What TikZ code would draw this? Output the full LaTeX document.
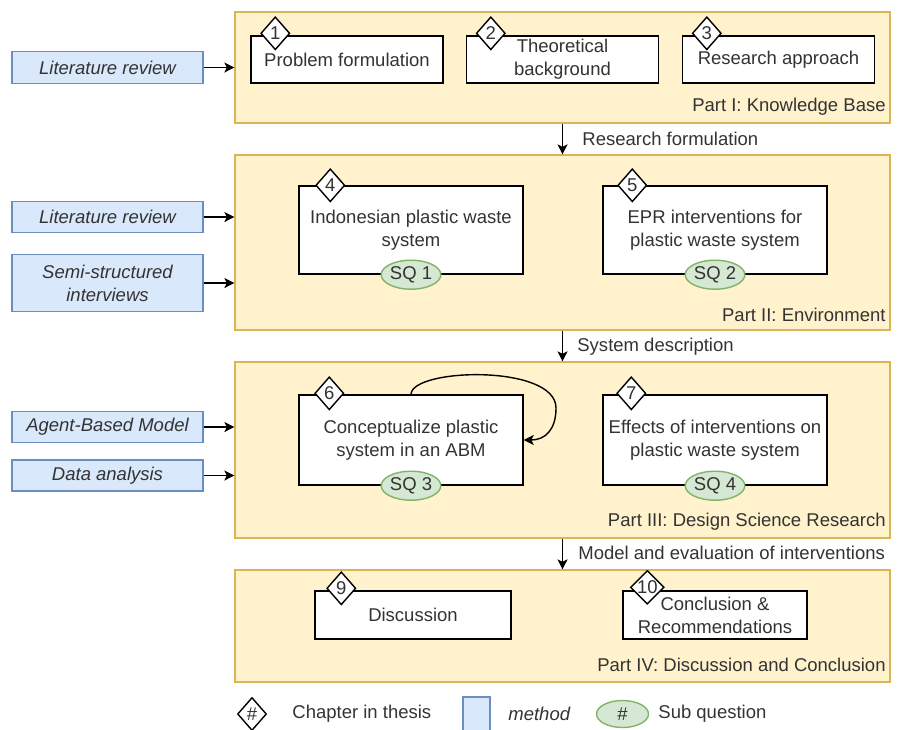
\documentclass[tikz,border=0pt]{standalone}
\usepackage{fontspec}
\setmainfont{Liberation Sans}
\usetikzlibrary{shapes.geometric,arrows.meta,calc}
\definecolor{partfill}{HTML}{FFF2CC}
\definecolor{partline}{HTML}{D6B656}
\definecolor{methfill}{HTML}{DAE8FC}
\definecolor{methline}{HTML}{6C8EBF}
\definecolor{sqfill}{HTML}{D5E8D4}
\definecolor{sqline}{HTML}{82B366}
\definecolor{ink}{HTML}{333333}
\tikzset{
  x=0.5pt, y=-0.5pt,
  every node/.style={font=\fontsize{9.25}{11.5}\selectfont, text=ink},
  part/.style={draw=partline, fill=partfill, line width=0.6pt, minimum width=327.5pt, inner sep=0},
  chap/.style={draw=black, fill=white, line width=0.7pt, align=center, inner sep=0},
  dia/.style={diamond, draw=black, fill=white, line width=0.7pt, inner sep=0,
    minimum width=14.5pt, minimum height=16.5pt},
  sq/.style={ellipse, draw=sqline, fill=sqfill, line width=0.7pt, inner sep=0, minimum width=24.5pt, minimum height=14.5pt},
  meth/.style={draw=methline, fill=methfill, line width=0.7pt, align=center, inner sep=0,
    minimum width=95.5pt, font=\fontsize{9.25}{11.5}\selectfont\itshape},
  flow/.style={-{Stealth[length=5pt,width=5pt,inset=1.2pt]}, line width=0.7pt, draw=black},
  partlabel/.style={anchor=east, inner sep=0},
  arrowlabel/.style={anchor=west, inner sep=0}
}
\begin{document}
\begin{tikzpicture}
\useasboundingbox (0,0) rectangle (898,729);

% the four parts
\node[part, minimum height=55.5pt] (p1) at (562.5,67.5) {};
\node[part, minimum height=87.5pt] (p2) at (562.5,242.5) {};
\node[part, minimum height=88pt]   (p3) at (562.5,450) {};
\node[part, minimum height=56pt]   (p4) at (562.5,626) {};

\node[partlabel] (l1) at (886,107) {Part I: Knowledge Base};
\node[partlabel] (l2) at (886,315) {Part II: Environment};
\node[partlabel] (l3) at (886,522) {Part III: Design Science Research};
\node[partlabel] (l4) at (886,665) {Part IV: Discussion and Conclusion};

% transitions between parts
\draw[flow] (p1.south) -- (p2.north);
\draw[flow] (p2.south) -- (p3.north);
\draw[flow] (p3.south) -- (p4.north);
\node[arrowlabel] (t1) at (582,139) {Research formulation};
\node[arrowlabel] (t2) at (577,347) {System description};
\node[arrowlabel] (t3) at (578,553) {Model and evaluation of interventions};

% chapters
\node[chap, minimum width=96pt, minimum height=23.5pt] (b1) at (347,59.5) {Problem formulation};
\node[chap, minimum width=96pt, minimum height=23.5pt] (b2) at (562.5,59.5) {Theoretical\\background};
\node[chap, minimum width=96pt, minimum height=23.5pt] (b3) at (778.5,59.5) {Research approach};

\node[chap, minimum width=112pt, minimum height=44pt] (b4) at (411,230) {Indonesian plastic waste\\system};
\node[chap, minimum width=112pt, minimum height=44pt] (b5) at (715,230) {EPR interventions for\\plastic waste system};

\node[chap, minimum width=112pt, minimum height=45pt] (b6) at (411,440) {Conceptualize plastic\\system in an ABM};
\node[chap, minimum width=112pt, minimum height=45pt] (b7) at (715,440) {Effects of interventions on\\plastic waste system};

\node[chap, minimum width=98pt, minimum height=24pt] (b9)  at (413,615) {Discussion};
\node[chap, minimum width=92pt, minimum height=24pt] (b10) at (715,615) {Conclusion \&\\Recommendations};

% chapter numbers
\node[dia] (d1) at ($(b1.north west)+(25,-2)$) {1};
\node[dia] (d2) at ($(b2.north west)+(25,-2)$) {2};
\node[dia] (d3) at ($(b3.north west)+(25,-2)$) {3};
\node[dia] (d4) at ($(b4.north west)+(32,0)$) {4};
\node[dia] (d5) at ($(b5.north west)+(30,0)$) {5};
\node[dia] (d6) at ($(b6.north west)+(31,-1)$) {6};
\node[dia] (d7) at ($(b7.north west)+(29,-1)$) {7};
\node[dia] (d9) at ($(b9.north west)+(27,-2)$) {9};
\node[dia] (d10) at ($(b10.north west)+(25,-3)$) {10};

% sub questions
\node[sq] (s1) at (b4.south) {SQ 1};
\node[sq] (s2) at (b5.south) {SQ 2};
\node[sq] (s3) at (b6.south) {SQ 3};
\node[sq] (s4) at (b7.south) {SQ 4};

% iteration on the model
\draw[flow] (b6.north) .. controls (412,368) and (556,364) .. (556,408)
  .. controls (556,430) and (545,440) .. (b6.east);

% methods
\node[meth, minimum height=16pt]   (m1) at (107.5,67.5)  {Literature review};
\node[meth, minimum height=15.5pt] (m2) at (107.5,217)   {Literature review};
\node[meth, minimum height=28.5pt] (m3) at (107.5,283)   {Semi-structured\\interviews};
\node[meth, minimum height=15.5pt] (m4) at (107.5,427)   {Agent-Based Model};
\node[meth, minimum height=15.5pt] (m5) at (107.5,475.5) {Data analysis};

\draw[flow] (m1.east) -- (m1.east -| p1.west);
\draw[flow] (m2.east) -- (m2.east -| p2.west);
\draw[flow] (m3.east) -- (m3.east -| p2.west);
\draw[flow] (m4.east) -- (m4.east -| p3.west);
\draw[flow] (m5.east) -- (m5.east -| p3.west);

% legend
\node[dia] (ld) at (252,714) {\#};
\node[anchor=west, inner sep=0] (lt) at (292,714) {Chapter in thesis};
\node[meth, minimum width=13.5pt, minimum height=17pt] (lm) at (476.5,714) {};
\node[anchor=west, inner sep=0, font=\fontsize{9.25}{11.5}\selectfont\itshape] (lmt) at (508,714) {method};
\node[sq, minimum width=26pt, minimum height=13.5pt] (ls) at (622.5,714) {\#};
\node[anchor=west, inner sep=0] (lst) at (658,714) {Sub question};
\end{tikzpicture}
\end{document}
